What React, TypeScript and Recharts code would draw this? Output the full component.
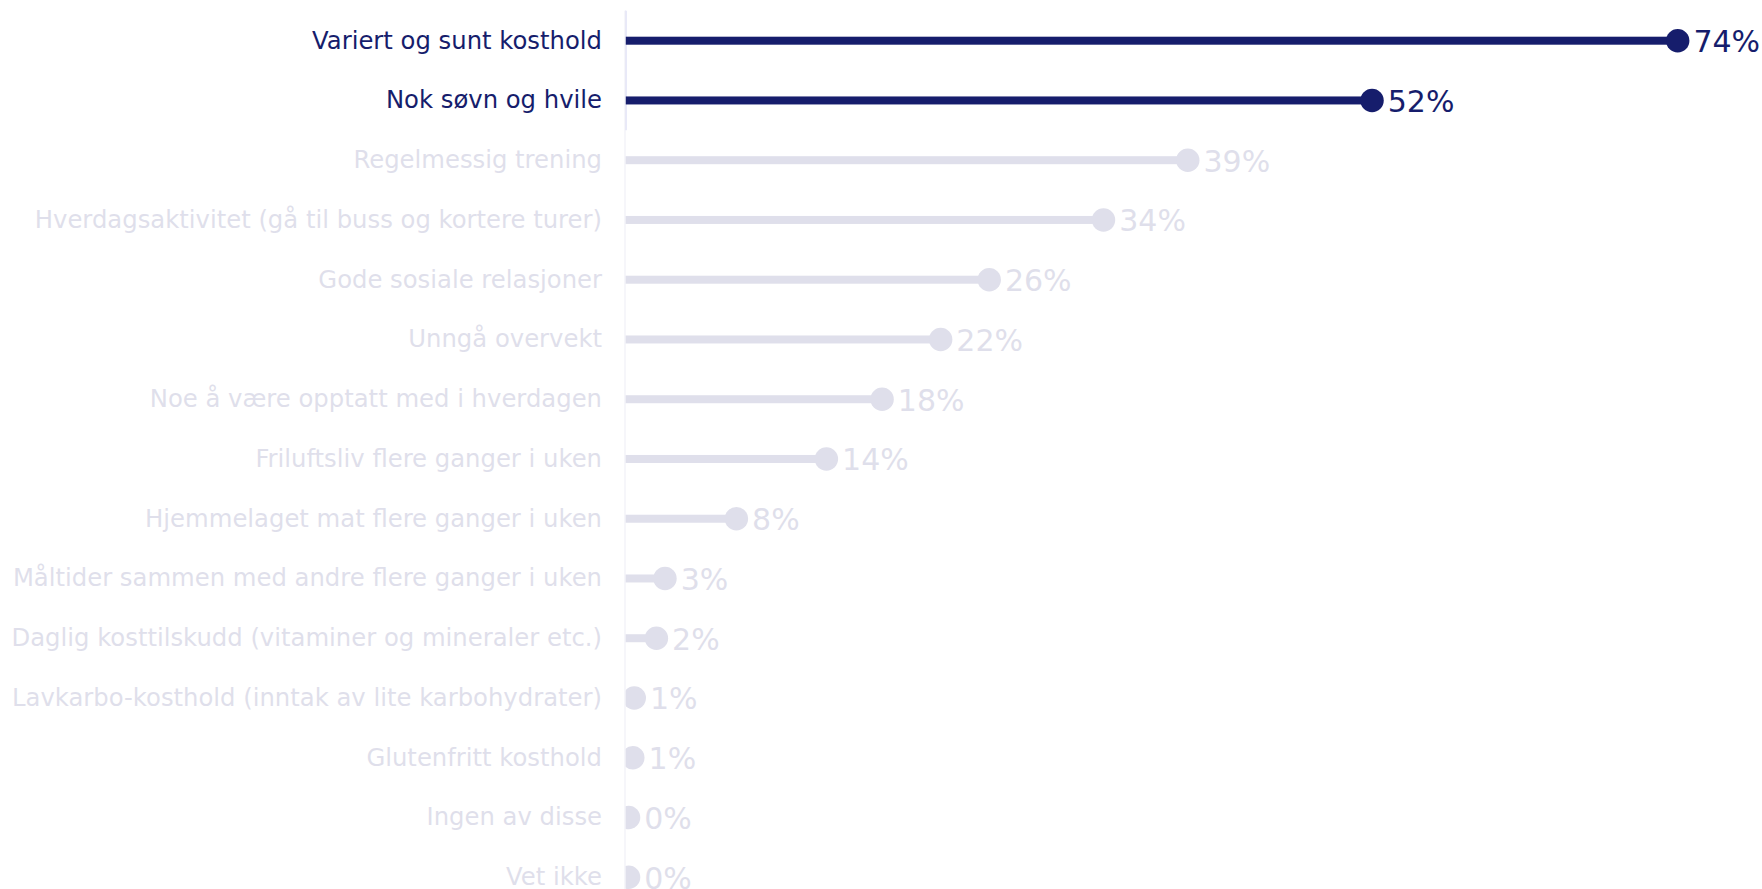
import { BarChart, Bar, XAxis, YAxis, LabelList, ReferenceArea } from "recharts";

const categories = [
  "Variert og sunt kosthold",
  "Nok søvn og hvile",
  "Regelmessig trening",
  "Hverdagsaktivitet (gå til buss og kortere turer)",
  "Gode sosiale relasjoner",
  "Unngå overvekt",
  "Noe å være opptatt med i hverdagen",
  "Friluftsliv flere ganger i uken",
  "Hjemmelaget mat flere ganger i uken",
  "Måltider sammen med andre flere ganger i uken",
  "Daglig kosttilskudd (vitaminer og mineraler etc.)",
  "Lavkarbo-kosthold (inntak av lite karbohydrater)",
  "Glutenfritt kosthold",
  "Ingen av disse",
  "Vet ikke",
];

const values = [73.7, 52.3, 39.4, 33.5, 25.5, 22.1, 18.0, 14.1, 7.8, 2.8, 2.2, 0.65, 0.55, 0.25, 0.25];

const valueLabels = ["74%", "52%", "39%", "34%", "26%", "22%", "18%", "14%", "8%", "3%", "2%", "1%", "1%", "0%", "0%"];

const highlightCount = 2;

const DARK = "#161d6c";
const LIGHT = "#dfdfeb";
const FONT = "'DejaVu Sans', Verdana, sans-serif";
const DOT_R = 11.7;

const data = categories.map((name, i) => ({ name, value: values[i], label: valueLabels[i] }));

const colorFor = (i: number) => (i < highlightCount ? DARK : LIGHT);

const CategoryTick = (props: any) => {
  const { x, y, payload, index } = props;
  return (
    <text
      x={x}
      y={y}
      dy={8}
      textAnchor="end"
      fill={colorFor(index)}
      fontSize={24.3}
      fontFamily={FONT}
    >
      {payload.value}
    </text>
  );
};

// linje + prikk, prikken klippes ved aksen
const Lollipop = (props: any) => {
  const { x, y, width, height, index } = props;
  const cy = y + height / 2;
  const id = `clip-${index}`;
  return (
    <g>
      <clipPath id={id}>
        <rect x={x} y={cy - 30} width={width + 40} height={60} />
      </clipPath>
      <rect x={x} y={y} width={width} height={height} fill={colorFor(index)} />
      <circle cx={x + width} cy={cy} r={DOT_R} fill={colorFor(index)} clipPath={`url(#${id})`} />
    </g>
  );
};

const ValueLabel = (props: any) => {
  const { x, y, width, height, value, index } = props;
  return (
    <text
      x={x + width + DOT_R + 4}
      y={y + height / 2}
      dy={11.5}
      fill={colorFor(index)}
      fontSize={30}
      fontFamily={FONT}
    >
      {value}
    </text>
  );
};

export default function App() {
  return (
    <div
      style={{
        position: "fixed",
        left: 0,
        top: 0,
        width: 1762,
        height: 889,
        overflow: "hidden",
        background: "#fff",
      }}
    >
      <BarChart
        width={1762}
        height={907}
        data={data}
        layout="vertical"
        margin={{ top: 10.7, right: 0, bottom: 0, left: 0 }}
      >
        <XAxis type="number" domain={[0, 79.6]} hide />
        <YAxis
          type="category"
          dataKey="name"
          width={625}
          tickLine={false}
          tickSize={0}
          tickMargin={23}
          axisLine={{ stroke: "#f3f3f9", strokeWidth: 1.5 }}
          tick={<CategoryTick />}
          interval={0}
        />
        <ReferenceArea
          x1={0}
          x2={0.1}
          y1={categories[0]}
          y2={categories[highlightCount - 1]}
          fill="#c9cbee"
          fillOpacity={1}
          stroke="none"
        />
        <Bar dataKey="value" barSize={8} shape={<Lollipop />} isAnimationActive={false}>
          <LabelList dataKey="label" content={<ValueLabel />} />
        </Bar>
      </BarChart>
    </div>
  );
}
